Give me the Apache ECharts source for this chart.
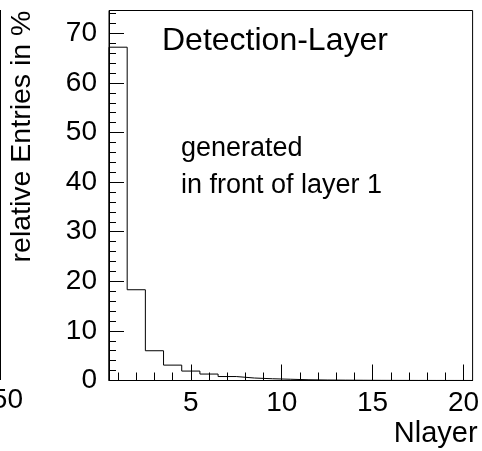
<!DOCTYPE html>
<html>
<head>
<meta charset="utf-8">
<script src="https://cdn.jsdelivr.net/npm/echarts@6/dist/echarts.min.js"></script>
<style>
  html, body { margin: 0; padding: 0; background: #fff; }
  #chart { width: 482px; height: 451px; }
</style>
</head>
<body>
<div id="chart"></div>
<script>
// Nlayer bins 1..20, relative entries in %
const layers = [1, 2, 3, 4, 5, 6, 7, 8, 9, 10, 11, 12, 13, 14, 15, 16, 17, 18, 19, 20];
const entries = [67.2, 18.3, 6.0, 3.1, 1.9, 1.3, 0.8, 0.5, 0.35, 0.25, 0.15, 0.1, 0.07, 0.05, 0.03, 0.02, 0.015, 0.01, 0.01, 0.005];
const xMajorTicks = [5, 10, 15, 20];

// histogram outline: left edge of each bin, then close at the last right edge
const histData = [[layers[0] - 0.5, 0]];
layers.forEach((l, i) => histData.push([l - 0.5, entries[i]]));
histData.push([layers[layers.length - 1] + 0.5, entries[entries.length - 1]]);

const font = 'Liberation Sans, Arial, sans-serif';
const chart = echarts.init(document.getElementById('chart'));

chart.setOption({
  animation: false,
  grid: {
    left: 105.5, right: 6, top: 10.5, bottom: 70.5,
    show: true, borderColor: '#000', borderWidth: 1
  },
  title: {
    text: 'Detection-Layer',
    left: 162, top: 25, padding: 0,
    textStyle: { fontFamily: font, fontSize: 32, fontWeight: 'normal', color: '#000' }
  },
  graphic: [
    {
      type: 'text', left: 181, top: 130,
      style: { text: 'generated\nin front of layer 1', font: '27px ' + font, lineHeight: 37, fill: '#000' }
    },
    // pieces of the neighbouring pad at the left edge
    { type: 'line', shape: { x1: 0.5, y1: 10, x2: 0.5, y2: 380 }, style: { stroke: '#000', lineWidth: 1 } },
    {
      type: 'text', x: 23, y: 386,
      style: { text: '50', font: '28px ' + font, fill: '#000', align: 'right', verticalAlign: 'top' }
    }
  ],
  xAxis: [
    {
      type: 'value', min: 0.5, max: 20.5,
      name: 'Nlayer', nameLocation: 'end', nameGap: 5,
      nameTextStyle: { fontFamily: font, fontSize: 29, color: '#000', align: 'right', verticalAlign: 'top', padding: [39, 0, 0, 0] },
      axisLine: { lineStyle: { color: '#000', width: 1 } },
      axisTick: { inside: true, length: 16, customValues: xMajorTicks, lineStyle: { color: '#000' } },
      axisLabel: { customValues: xMajorTicks, margin: 9, fontFamily: font, fontSize: 28, color: '#000' },
      splitLine: { show: false }
    },
    {
      type: 'value', min: 0.5, max: 20.5, position: 'bottom',
      axisLine: { show: false },
      axisTick: { inside: true, length: 8, customValues: layers, lineStyle: { color: '#000' } },
      axisLabel: { show: false },
      splitLine: { show: false }
    }
  ],
  yAxis: {
    type: 'value', min: 0, max: 74.6, interval: 10,
    name: 'relative Entries in %', nameLocation: 'middle', nameGap: 72,
    nameTextStyle: { fontFamily: font, fontSize: 28.5, color: '#000', padding: [0, 0, 0, 118] },
    axisLine: { lineStyle: { color: '#000', width: 1 } },
    axisTick: { inside: true, length: 15, lineStyle: { color: '#000' } },
    minorTick: { show: true, splitNumber: 5, length: 7, lineStyle: { color: '#000' } },
    axisLabel: { margin: 12, fontFamily: font, fontSize: 28, color: '#000' },
    splitLine: { show: false }
  },
  series: [{
    type: 'line',
    step: 'end',
    data: histData,
    showSymbol: false,
    lineStyle: { color: '#000', width: 1 },
    clip: true
  }]
});
</script>
</body>
</html>
